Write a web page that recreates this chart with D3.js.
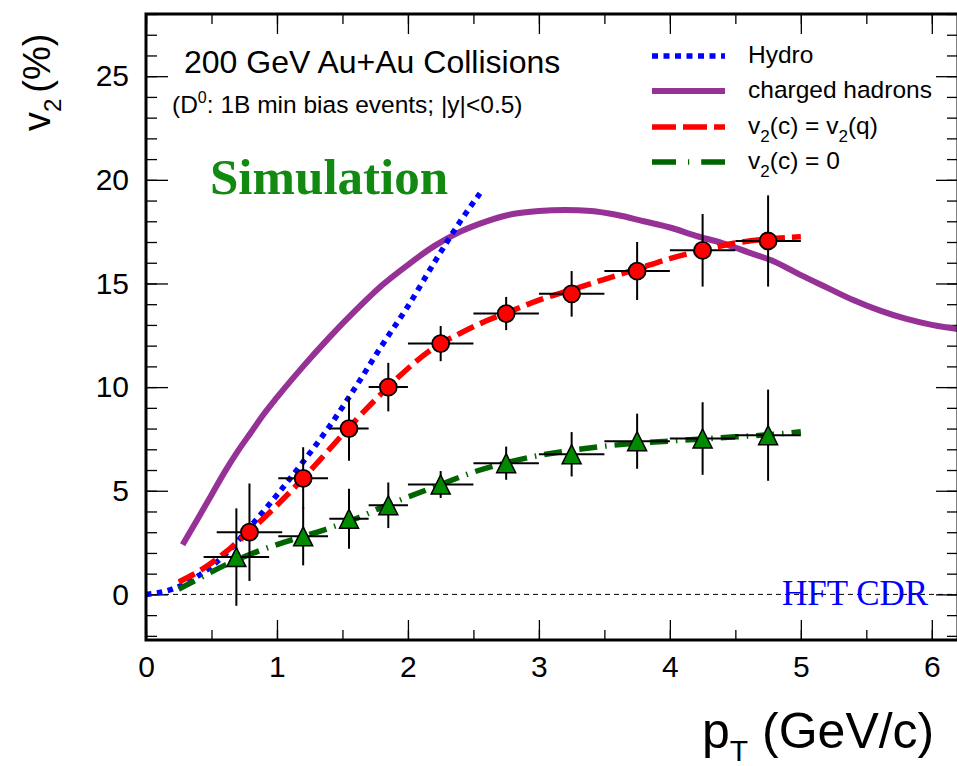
<!DOCTYPE html>
<html>
<head>
<meta charset="utf-8">
<script src="https://cdn.jsdelivr.net/npm/d3@7"></script>
<style>
  html, body { margin: 0; padding: 0; background: #fff; }
</style>
</head>
<body>
<svg id="chart" width="957" height="766" font-family="'Liberation Sans', Arial, Helvetica, sans-serif"></svg>
<script>
// ---- data -------------------------------------------------------------
// Hydro prediction (pT, v2 %)
const hydroPt = [0, 0.2, 0.4, 0.6, 0.8, 1.0, 1.2, 1.4, 1.6, 1.8, 2.0, 2.2, 2.4, 2.55];
const hydroV2 = [0, 0.25, 0.9, 1.9, 3.3, 4.8, 6.4, 8.1, 10.0, 12.0, 13.9, 16.0, 18.0, 19.35];

// Charged hadron v2
const hadronPt = [0.28, 0.4, 0.5, 0.6, 0.7, 0.8, 0.9, 1.0, 1.2, 1.4, 1.6, 1.8, 2.0, 2.2, 2.4, 2.6, 2.8, 3.0, 3.2, 3.4, 3.6, 3.8, 4.0, 4.2, 4.4, 4.6, 4.8, 5.0, 5.2, 5.4, 5.6, 5.8, 6.0, 6.2];
const hadronV2 = [2.4, 3.7, 4.8, 5.9, 6.9, 7.8, 8.7, 9.5, 11.0, 12.4, 13.7, 14.9, 15.9, 16.8, 17.5, 18.0, 18.35, 18.5, 18.55, 18.5, 18.3, 18.0, 17.7, 17.3, 16.95, 16.5, 16.05, 15.4, 14.8, 14.2, 13.7, 13.3, 13.0, 12.8];

// v2(c) = v2(q) expectation
const quarkPt = [0.25, 0.4, 0.6, 0.8, 1.0, 1.2, 1.4, 1.6, 1.8, 2.0, 2.2, 2.4, 2.6, 2.8, 3.0, 3.25, 3.5, 3.75, 4.0, 4.25, 4.5, 4.75, 5.0];
const quarkV2 = [0.6, 1.1, 2.0, 3.1, 4.3, 5.6, 7.0, 8.4, 9.7, 10.9, 11.9, 12.6, 13.2, 13.7, 14.2, 14.7, 15.2, 15.7, 16.2, 16.6, 16.95, 17.15, 17.25];

// v2(c) = 0 expectation
const zeroPt = [0.25, 0.4, 0.6, 0.8, 1.0, 1.2, 1.4, 1.6, 1.8, 2.0, 2.25, 2.5, 2.75, 3.0, 3.25, 3.5, 3.75, 4.0, 4.25, 4.5, 4.75, 5.0];
const zeroV2 = [0.25, 0.75, 1.4, 1.95, 2.4, 2.8, 3.2, 3.65, 4.2, 4.7, 5.3, 5.9, 6.35, 6.7, 6.95, 7.15, 7.3, 7.4, 7.5, 7.6, 7.7, 7.85];

// Simulated D0 points, v2(c) = v2(q)
const redPt   = [0.79, 1.2, 1.55, 1.85, 2.25, 2.75, 3.25, 3.75, 4.25, 4.75];
const redV2   = [3.0, 5.6, 8.0, 10.0, 12.1, 13.55, 14.5, 15.6, 16.6, 17.05];
const redPtErr = [0.25, 0.19, 0.15, 0.15, 0.25, 0.25, 0.25, 0.25, 0.25, 0.25];
const redV2Err = [2.35, 1.5, 1.55, 1.17, 0.85, 0.8, 1.1, 1.4, 1.75, 2.2];

// Simulated D0 points, v2(c) = 0
const greenPt   = [0.69, 1.2, 1.55, 1.85, 2.25, 2.75, 3.25, 3.75, 4.25, 4.75];
const greenV2   = [1.8, 2.8, 3.65, 4.3, 5.3, 6.33, 6.76, 7.39, 7.52, 7.68];
const greenPtErr = [0.25, 0.19, 0.15, 0.15, 0.25, 0.25, 0.25, 0.25, 0.25, 0.25];
const greenV2Err = [2.35, 1.4, 1.45, 1.1, 0.65, 0.8, 1.07, 1.33, 1.75, 2.2];

// Axis ticks
const xMajorTicks = [0, 1, 2, 3, 4, 5, 6];
const yMajorTicks = [0, 5, 10, 15, 20, 25];

// Legend entries
const legendLabels = ["Hydro", "charged hadrons", "v2(c) = v2(q)", "v2(c) = 0"];

// ---- layout -----------------------------------------------------------
const SANS = "'Liberation Sans', Arial, Helvetica, sans-serif";
const SERIF = "'Liberation Serif', 'Times New Roman', Times, serif";
const svg = d3.select("#chart");
const X0 = 146, X1 = 958, Y0 = 640, Y1 = 14;
const x = d3.scaleLinear().domain([0, 6.2]).range([X0, X1]);
const y = d3.scaleLinear().domain([-2.2, 28]).range([Y0, Y1]);

const clipId = "plotclip";
svg.append("defs").append("clipPath").attr("id", clipId)
  .append("rect").attr("x", X0).attr("y", Y1).attr("width", X1 - X0).attr("height", Y0 - Y1);

// ---- axes -------------------------------------------------------------
const xMinor = d3.range(0, 6.21, 0.5);
const yMinor = d3.range(-2, 28.01, 1);

function styleAxis(g) {
  g.select(".domain").remove();
  g.selectAll("line").attr("stroke", "#000").attr("stroke-width", 1.3);
  g.selectAll("text").attr("font-size", 30).attr("fill", "#000").attr("font-family", SANS);
}

// bottom
svg.append("g").attr("transform", `translate(0,${Y0})`)
  .call(d3.axisBottom(x).tickValues(xMinor).tickSize(-10).tickFormat(""))
  .call(styleAxis);
svg.append("g").attr("transform", `translate(0,${Y0})`)
  .call(d3.axisBottom(x).tickValues(xMajorTicks).tickSize(-20).tickPadding(16).tickFormat(d3.format("d")))
  .call(styleAxis);
// top (mirror)
svg.append("g").attr("transform", `translate(0,${Y1})`)
  .call(d3.axisTop(x).tickValues(xMinor).tickSize(-10).tickFormat(""))
  .call(styleAxis);
svg.append("g").attr("transform", `translate(0,${Y1})`)
  .call(d3.axisTop(x).tickValues(xMajorTicks).tickSize(-20).tickFormat(""))
  .call(styleAxis);
// left
svg.append("g").attr("transform", `translate(${X0},0)`)
  .call(d3.axisLeft(y).tickValues(yMinor).tickSize(-11).tickFormat(""))
  .call(styleAxis);
svg.append("g").attr("transform", `translate(${X0},0)`)
  .call(d3.axisLeft(y).tickValues(yMajorTicks).tickSize(-22).tickPadding(17).tickFormat(d3.format("d")))
  .call(styleAxis);
// right (mirror)
svg.append("g").attr("transform", `translate(${X1},0)`)
  .call(d3.axisRight(y).tickValues(yMinor).tickSize(-11).tickFormat(""))
  .call(styleAxis);
svg.append("g").attr("transform", `translate(${X1},0)`)
  .call(d3.axisRight(y).tickValues(yMajorTicks).tickSize(-22).tickFormat(""))
  .call(styleAxis);

// zero reference line
svg.append("line")
  .attr("x1", X0).attr("x2", X1).attr("y1", y(0)).attr("y2", y(0))
  .attr("stroke", "#000").attr("stroke-width", 1).attr("stroke-dasharray", "5,4");

// HFT CDR tag
svg.append("text").attr("x", 782).attr("y", 605)
  .attr("font-family", SERIF)
  .attr("font-size", 35).attr("fill", "#0000ff").text("HFT CDR");

// ---- curves -----------------------------------------------------------
const plot = svg.append("g").attr("clip-path", `url(#${clipId})`);
const lineGen = d3.line().x(d => x(d[0])).y(d => y(d[1])).curve(d3.curveMonotoneX);

function drawCurve(pts, vals, color, width, dash) {
  plot.append("path")
    .datum(pts.map((p, i) => [p, vals[i]]))
    .attr("d", lineGen)
    .attr("fill", "none")
    .attr("stroke", color)
    .attr("stroke-width", width)
    .attr("stroke-dasharray", dash);
}

drawCurve(hadronPt, hadronV2, "#963296", 6, null);
drawCurve(hydroPt, hydroV2, "#0000ff", 5.5, "5.5,5.5");
drawCurve(quarkPt, quarkV2, "#ff0000", 5.5, "18,7");
drawCurve(zeroPt, zeroV2, "#006400", 5.5, "18,8,1.5,8");

// ---- error bars and markers ---------------------------------------------
function drawPoints(pts, vals, ptErr, vErr, kind) {
  const g = svg.append("g");
  pts.forEach((p, i) => {
    g.append("line")
      .attr("x1", x(p - ptErr[i])).attr("x2", x(p + ptErr[i]))
      .attr("y1", y(vals[i])).attr("y2", y(vals[i]))
      .attr("stroke", "#000").attr("stroke-width", 2);
    g.append("line")
      .attr("x1", x(p)).attr("x2", x(p))
      .attr("y1", y(vals[i] - vErr[i])).attr("y2", y(vals[i] + vErr[i]))
      .attr("stroke", "#000").attr("stroke-width", 2);
  });
  pts.forEach((p, i) => {
    const cx = x(p), cy = y(vals[i]);
    if (kind === "circle") {
      g.append("circle").attr("cx", cx).attr("cy", cy).attr("r", 8.5)
        .attr("fill", "#ff0000").attr("stroke", "#000").attr("stroke-width", 1.8);
    } else {
      const s = 9.5;
      g.append("path")
        .attr("d", `M${cx},${cy - s}L${cx + s},${cy + s}L${cx - s},${cy + s}Z`)
        .attr("fill", "#008a00").attr("stroke", "#000").attr("stroke-width", 1.5);
    }
  });
}

drawPoints(greenPt, greenV2, greenPtErr, greenV2Err, "triangle");
drawPoints(redPt, redV2, redPtErr, redV2Err, "circle");

// ---- frame --------------------------------------------------------------
svg.append("rect")
  .attr("x", X0).attr("y", Y1).attr("width", X1 - X0).attr("height", Y0 - Y1)
  .attr("fill", "none").attr("stroke", "#000").attr("stroke-width", 3);

// ---- annotations --------------------------------------------------------
svg.append("text").attr("x", 184).attr("y", 73).attr("font-size", 32)
  .text("200 GeV Au+Au Collisions");

const sub = svg.append("text").attr("x", 172).attr("y", 113).attr("font-size", 24.5);
sub.append("tspan").text("(D");
sub.append("tspan").attr("font-size", 16).attr("dy", -10).text("0");
sub.append("tspan").attr("dy", 10).text(": 1B min bias events; |y|<0.5)");

svg.append("text").attr("x", 210).attr("y", 194)
  .attr("font-family", SERIF)
  .attr("font-weight", "bold").attr("font-size", 51).attr("fill", "#128a12")
  .text("Simulation");

// ---- legend -------------------------------------------------------------
const legendRows = [
  { label: legendLabels[0], color: "#0000ff", width: 5.5, dash: "6,5.5", y: 56 },
  { label: legendLabels[1], color: "#963296", width: 6, dash: null, y: 91 },
  { label: legendLabels[2], color: "#ff0000", width: 5.5, dash: "24,7", y: 127 },
  { label: legendLabels[3], color: "#006400", width: 5.5, dash: "24,12,1.2,12", y: 162 }
];
const legend = svg.append("g");
legendRows.forEach(r => {
  legend.append("line").attr("x1", 652).attr("x2", 725).attr("y1", r.y).attr("y2", r.y)
    .attr("stroke", r.color).attr("stroke-width", r.width).attr("stroke-dasharray", r.dash);
  const t = legend.append("text").attr("x", 748).attr("y", r.y + 7).attr("font-size", 24.5);
  const m = r.label.match(/^v2\(c\) = (v2\(q\)|0)$/);
  if (m) {
    t.append("tspan").text("v");
    t.append("tspan").attr("font-size", 17).attr("dy", 8).text("2");
    t.append("tspan").attr("dy", -8).text("(c) = ");
    if (m[1] === "0") {
      t.append("tspan").text("0");
    } else {
      t.append("tspan").text("v");
      t.append("tspan").attr("font-size", 17).attr("dy", 8).text("2");
      t.append("tspan").attr("dy", -8).text("(q)");
    }
  } else {
    t.text(r.label);
  }
});

// ---- axis titles --------------------------------------------------------
const xt = svg.append("text").attr("x", 702).attr("y", 748).attr("font-size", 50);
xt.append("tspan").text("p");
xt.append("tspan").attr("font-size", 30).attr("dy", 13).text("T");
xt.append("tspan").attr("dy", -13).text(" (GeV/c)");

const yt = svg.append("text").attr("transform", "translate(50,131) rotate(-90)").attr("font-size", 38);
yt.append("tspan").text("v");
yt.append("tspan").attr("font-size", 24).attr("dy", 11).text("2");
yt.append("tspan").attr("dy", -11).attr("dx", 6).text("(%)");
</script>
</body>
</html>
